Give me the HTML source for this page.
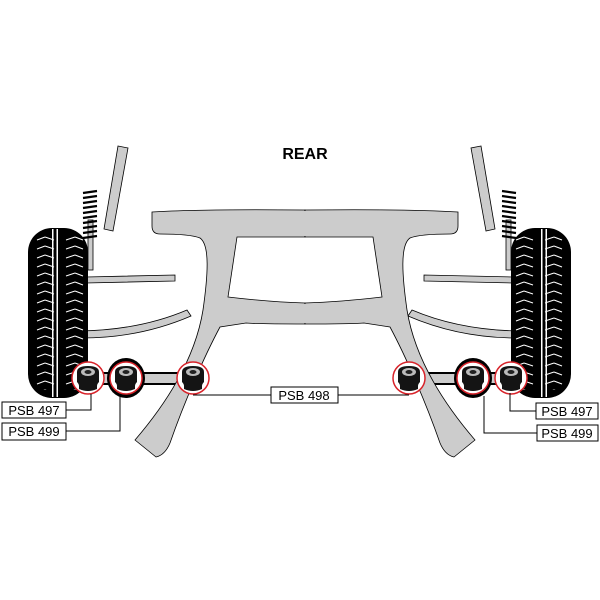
<!DOCTYPE html>
<html><head><style>html,body{margin:0;padding:0;background:#fff}svg{display:block}</style></head><body>
<svg width="600" height="600" viewBox="0 0 600 600" xmlns="http://www.w3.org/2000/svg" font-family="Liberation Sans, Arial, sans-serif">
<defs>
<pattern id="tread" x="0" y="0" width="60" height="9" patternUnits="userSpaceOnUse">
<path d="M6 6 L15 3 M15 3 L23 6 M37 6 L45 3 M45 3 L54 6" stroke="#fff" stroke-width="1" fill="none"/>
</pattern>
<g id="bush">
<circle r="16" fill="#fff" stroke="#d8232a" stroke-width="1.5"/>
<path d="M-11 -6 Q-11 -12 0 -12 Q11 -12 11 -6 L11 4 Q9 6 9 8 L9 11 Q0 15 -9 11 L-9 8 Q-9 6 -11 4 Z" fill="#141414"/>
<ellipse cx="0" cy="-6" rx="7" ry="4" fill="#bbb"/>
<ellipse cx="0" cy="-6" rx="3.5" ry="2" fill="#222"/>
</g>
<g id="susp">
<path d="M118 146 L128 148 L113 231 L104 229 Z" fill="#ccc" stroke="#000" stroke-width="0.8"/>
<rect x="88" y="220" width="5" height="50" fill="#ccc" stroke="#000" stroke-width="0.8"/>
<g stroke="#000" stroke-width="2.2" fill="none">
<path d="M83 193 L97 191 M83 198 L97 196 M83 203 L97 201 M83 208 L97 206 M83 213 L97 211 M83 218 L97 216 M83 223 L97 221 M83 228 L97 226 M83 233 L97 231 M83 238 L97 236"/>
</g>
<path d="M86 277 L175 275 L175 281 L86 283 Z" fill="#ccc" stroke="#000" stroke-width="0.8"/>
<path d="M80 331 Q140 330 187 310 L191 316 Q140 338 82 338 Z" fill="#ccc" stroke="#000" stroke-width="0.8"/>
<rect x="28" y="228" width="60" height="170" rx="24" fill="#000"/>
<rect x="30" y="236" width="56" height="154" fill="url(#tread)"/>
<rect x="52" y="229" width="1.5" height="168" fill="#fff"/>
<rect x="56.5" y="229" width="1.5" height="168" fill="#fff"/>
<path d="M100 373 L190 373 L190 384 L100 384 Z" fill="#ccc" stroke="#000" stroke-width="2"/>
<ellipse cx="126" cy="378" rx="19" ry="20" fill="#000"/>
<use href="#bush" x="88" y="378"/>
<use href="#bush" x="126" y="378"/>
</g>
<g id="frame">
<path d="M152 212 Q200 209 305 210 L305 237 L237 237 L228 297 Q270 302 305 303 L305 324 Q260 324 246 323 L220 327 C205 355 185 400 170 443 Q165 455 156 457 L135 440 C165 405 195 360 203 310 C208 275 210 245 200 238 Q190 234 160 234 Q152 234 152 226 Z" fill="#ccc" stroke="#000" stroke-width="0.8"/>
</g>
</defs>
<use href="#susp"/>
<use href="#susp" transform="translate(599,0) scale(-1,1)"/>
<use href="#frame"/>
<use href="#frame" transform="translate(610,0) scale(-1,1)"/>
<rect x="300" y="211" width="10" height="25" fill="#ccc"/>
<rect x="300" y="304" width="10" height="19" fill="#ccc"/>
<use href="#bush" x="193" y="378"/>
<use href="#bush" x="409" y="378"/>
<text x="305" y="159" font-size="16" font-weight="bold" text-anchor="middle">REAR</text>
<g stroke="#000" stroke-width="1" fill="none">
<path d="M66 410 L91 410 L91 394"/>
<path d="M66 431 L120 431 L120 396"/>
<path d="M193 395 L409 395"/>
<path d="M536 411 L510 411 L510 393"/>
<path d="M537 433 L484 433 L484 396"/>
</g>
<g fill="#fff" stroke="#000" stroke-width="1">
<rect x="2" y="402" width="64" height="16"/>
<rect x="2" y="423" width="64" height="17"/>
<rect x="271" y="387" width="67" height="16"/>
<rect x="536" y="403" width="62" height="16"/>
<rect x="537" y="425" width="61" height="16"/>
</g>
<g font-size="13" text-anchor="middle" fill="#000">
<text x="34" y="415">PSB 497</text>
<text x="34" y="436">PSB 499</text>
<text x="304" y="400">PSB 498</text>
<text x="567" y="416">PSB 497</text>
<text x="567" y="438">PSB 499</text>
</g>
</svg>
</body></html>
